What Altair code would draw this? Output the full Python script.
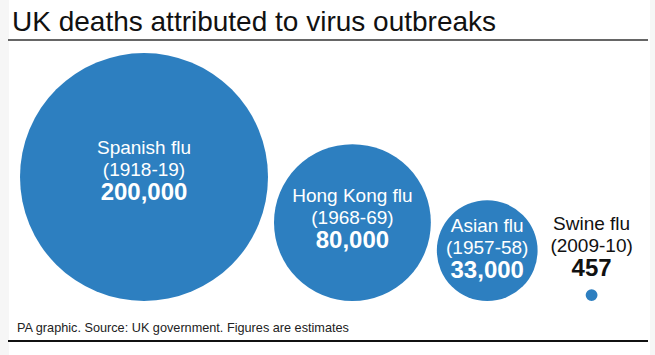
import math
import altair as alt
import pandas as pd

# ---- data ----
outbreaks = ["Spanish flu", "Hong Kong flu", "Asian flu", "Swine flu"]
years = ["(1918-19)", "(1968-69)", "(1957-58)", "(2009-10)"]
deaths = [200000, 80000, 33000, 457]
death_labels = ["200,000", "80,000", "33,000", "457"]

# ---- layout constants ----
W, H = 655, 355
R_MAX = 124       # radius (px) of the largest bubble
BASE = 301        # bubbles sit on this line
LEFT = 20
GAP = 6
MIN_SLOT = 96     # a tiny bubble still needs room for its label
BLUE = "#2d7fc0"

radii = [R_MAX * math.sqrt(d / max(deaths)) for d in deaths]
cx, pos = [], LEFT
for r in radii:
    slot = max(2 * r, MIN_SLOT)
    cx.append(pos + slot / 2)
    pos += slot + GAP
cy = [BASE - r for r in radii]
inside = [2 * r > MIN_SLOT for r in radii]
anchor = [c - 0.055 * r if ins else c - r - 43 for c, r, ins in zip(cy, radii, inside)]

df = pd.DataFrame({
    "outbreak": outbreaks,
    "years": years,
    "deaths": deaths,
    "label": death_labels,
    "cx": cx,
    "cy": cy,
    "y1": [a - 22 for a in anchor],
    "y2": anchor,
    "y3": [a + 23 for a in anchor],
    "tcolor": ["white" if i else "#111111" for i in inside],
})

xs = alt.Scale(domain=[0, W], range=[0, W])
ys = alt.Scale(domain=[0, H], range=[0, H])
X = lambda f: alt.X(f, type="quantitative", scale=xs, axis=None)
Y = lambda f: alt.Y(f, type="quantitative", scale=ys, axis=None)

base = alt.Chart(df)

panel = alt.Chart(pd.DataFrame({"a": [0]})).mark_rect(color="white").encode(
    x=alt.value(9), x2=alt.value(650), y=alt.value(0), y2=alt.value(H)
)

# Vega circle radius = sqrt(size)/2, so the area range is (2R)^2
bubbles = base.mark_circle(color=BLUE, opacity=1).encode(
    x=X("cx"), y=Y("cy"),
    size=alt.Size("deaths:Q", scale=alt.Scale(domain=[0, max(deaths)],
                                              range=[0, (2 * R_MAX) ** 2], zero=True),
                  legend=None),
)

def label(field, y, size, weight):
    return base.mark_text(font="Liberation Sans", fontSize=size, fontWeight=weight,
                          align="center", baseline="middle").encode(
        x=X("cx"), y=Y(y), text=f"{field}:N",
        color=alt.Color("tcolor:N", scale=None),
    )

t1 = label("outbreak", "y1", 19, "normal")
t2 = label("years", "y2", 19, "normal")
t3 = label("label", "y3", 24, "bold")

one = pd.DataFrame({"a": [0]})
title = alt.Chart(one).mark_text(
    text="UK deaths attributed to virus outbreaks",
    font="Liberation Sans", fontSize=28, align="left", baseline="alphabetic",
    color="#111111"
).encode(x=alt.value(12), y=alt.value(31))

footer = alt.Chart(one).mark_text(
    text="PA graphic. Source: UK government. Figures are estimates",
    font="Liberation Sans", fontSize=12.7, align="left", baseline="middle",
    color="#222222"
).encode(x=alt.value(17), y=alt.value(328))

top_rule = alt.Chart(one).mark_rule(color="#333333", strokeWidth=1.5).encode(
    x=alt.value(8), x2=alt.value(648), y=alt.value(40)
)
bottom_rule = alt.Chart(one).mark_rule(color="#111111", strokeWidth=2).encode(
    x=alt.value(8), x2=alt.value(648), y=alt.value(341)
)

chart = alt.layer(
    panel, bubbles, t1, t2, t3, title, footer, top_rule, bottom_rule
).properties(
    width=W, height=H, padding=0, autosize=alt.AutoSizeParams(type="none"),
    background="#f6f6f6"
).configure_view(stroke=None)

chart.save("out.html", embed_options={"renderer": "svg", "actions": False})
